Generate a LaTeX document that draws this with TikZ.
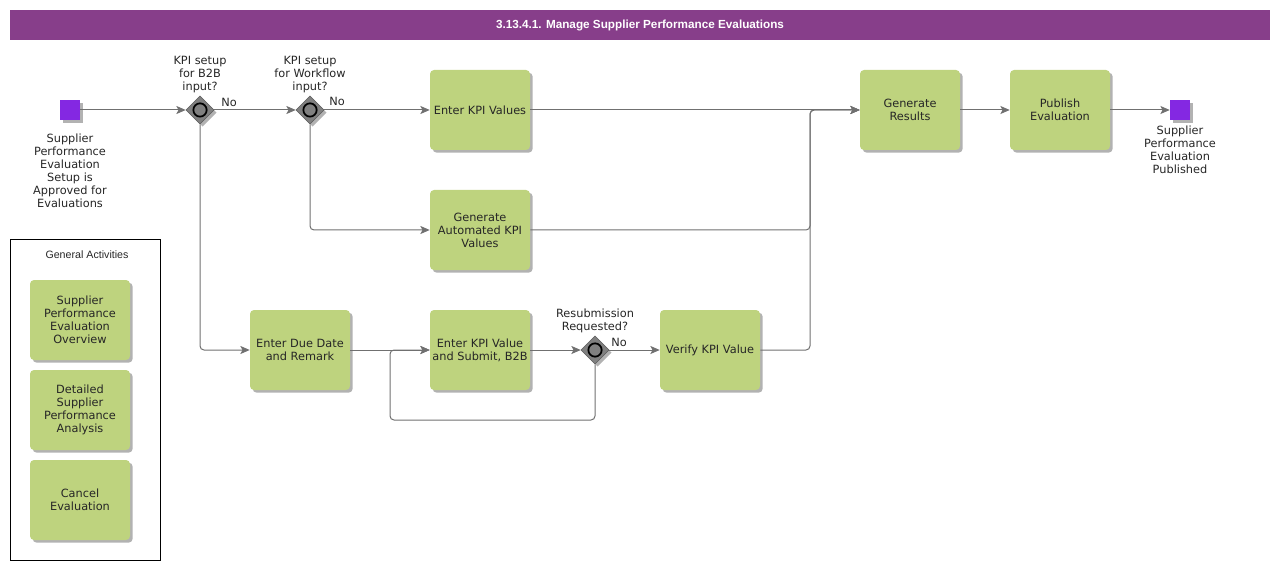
\documentclass[tikz,border=0pt]{standalone}
\usepackage{fontspec}
\setmainfont{DejaVu Sans}
\newfontfamily\headfont{Liberation Sans}
\usetikzlibrary{positioning, shapes.geometric, arrows.meta, shadows}

\definecolor{titlebar}{RGB}{135,62,138}
\definecolor{taskgreen}{RGB}{190,211,126}
\definecolor{eventviolet}{RGB}{132,40,226}
\definecolor{flowgray}{RGB}{112,112,112}
\definecolor{gwgray}{RGB}{128,128,128}

\begin{document}
\begin{tikzpicture}[x=0.75pt, y=-0.75pt,
      every node/.style={font=\fontsize{8.5}{9.75}\selectfont, text=black!85},
      shade/.style={drop shadow={shadow xshift=2pt, shadow yshift=-2pt, opacity=0.3, fill=black}},
      task/.style={rectangle, rounded corners=3pt, fill=taskgreen, minimum width=75pt, minimum height=60pt, align=center, inner sep=1pt, shade},
      event/.style={rectangle, fill=eventviolet, minimum size=15pt, inner sep=0pt, shade},
      gateway/.style={diamond, aspect=1, fill=gwgray, draw=gwgray!70!black, minimum size=21pt, inner sep=0pt, shade,
        path picture={\draw[draw=black, line width=1.3pt, fill=gwgray] (path picture bounding box.center) circle (5pt);}},
      flow/.style={draw=flowgray, line width=0.75pt, rounded corners=3pt, -{Stealth[length=7pt, width=6pt, inset=1.5pt]}},
      lbl/.style={align=center, inner sep=0pt}]
      \useasboundingbox (0,0) rectangle (1280,570);

      \fill[titlebar] (10,10) rectangle (1270,40);
      \node[font=\headfont\bfseries\fontsize{8.8}{11}\selectfont, text=white] (title) at (640,25) {3.13.4.1. Manage Supplier Performance Evaluations};

      \node[event] (start) at (70,110) {};
      \node[lbl, below=10pt of start] (startlbl) {Supplier\\Performance\\Evaluation\\Setup is\\Approved for\\Evaluations};

      \node[gateway] (gw1) at (200,110) {};
      \node[lbl, above=2pt of gw1] (gw1lbl) {KPI setup\\for B2B\\input?};
      \node[gateway] (gw2) at (310,110) {};
      \node[lbl, above=2pt of gw2] (gw2lbl) {KPI setup\\for Workflow\\input?};
      \node[gateway] (gw3) at (595,350) {};
      \node[lbl, above=2pt of gw3] (gw3lbl) {Resubmission\\Requested?};

      \node[lbl] (no1) at (229,102) {No};
      \node[lbl] (no2) at (337,101) {No};
      \node[lbl] (no3) at (619,342) {No};

      \node[task] (ekvs) at (480,110) {Enter KPI Values};
      \node[task] (gakv) at (480,230) {Generate\\Automated KPI\\Values};
      \node[task] (due) at (300,350) {Enter Due Date\\and Remark};
      \node[task] (ekv) at (480,350) {Enter KPI Value\\and Submit, B2B};
      \node[task] (verify) at (710,350) {Verify KPI Value};
      \node[task] (gres) at (910,110) {Generate\\Results};
      \node[task] (pub) at (1060,110) {Publish\\Evaluation};

      \node[event] (end) at (1180,110) {};
      \node[lbl, below=4pt of end] (endlbl) {Supplier\\Performance\\Evaluation\\Published};

      \coordinate (loop) at (390,420);
      \coordinate (merge) at (810,110);

      \draw[flow] (start.east) -- (gw1.west);
      \draw[flow] (gw1.east) -- (gw2.west);
      \draw[flow] (gw2.east) -- (ekvs.west);
      \draw[flow] (gw2.south) |- (gakv.west);
      \draw[flow] (gw1.south) |- (due.west);
      \draw[flow] (due.east) -- (ekv.west);
      \draw[flow] (ekv.east) -- (gw3.west);
      \draw[flow] (gw3.east) -- (verify.west);
      \draw[flow] (gw3.south) |- (loop) |- (ekv.west);
      \draw[flow] (ekvs.east) -- (gres.west);
      \draw[flow] (gakv.east) -| (merge) -- (gres.west);
      \draw[flow] (verify.east) -| (merge) -- (gres.west);
      \draw[flow] (gres.east) -- (pub.west);
      \draw[flow] (pub.east) -- (end.west);

      \draw[black, line width=0.75pt] (10,240) rectangle (160,560);
      \node[font=\headfont\fontsize{8}{10}\selectfont] (genlbl) at (87,255) {General Activities};
      \node[task] (overview) at (80,320) {Supplier\\Performance\\Evaluation\\Overview};
      \node[task] (analysis) at (80,410) {Detailed\\Supplier\\Performance\\Analysis};
      \node[task] (cancel) at (80,500) {Cancel\\Evaluation};
    \end{tikzpicture}
\end{document}
